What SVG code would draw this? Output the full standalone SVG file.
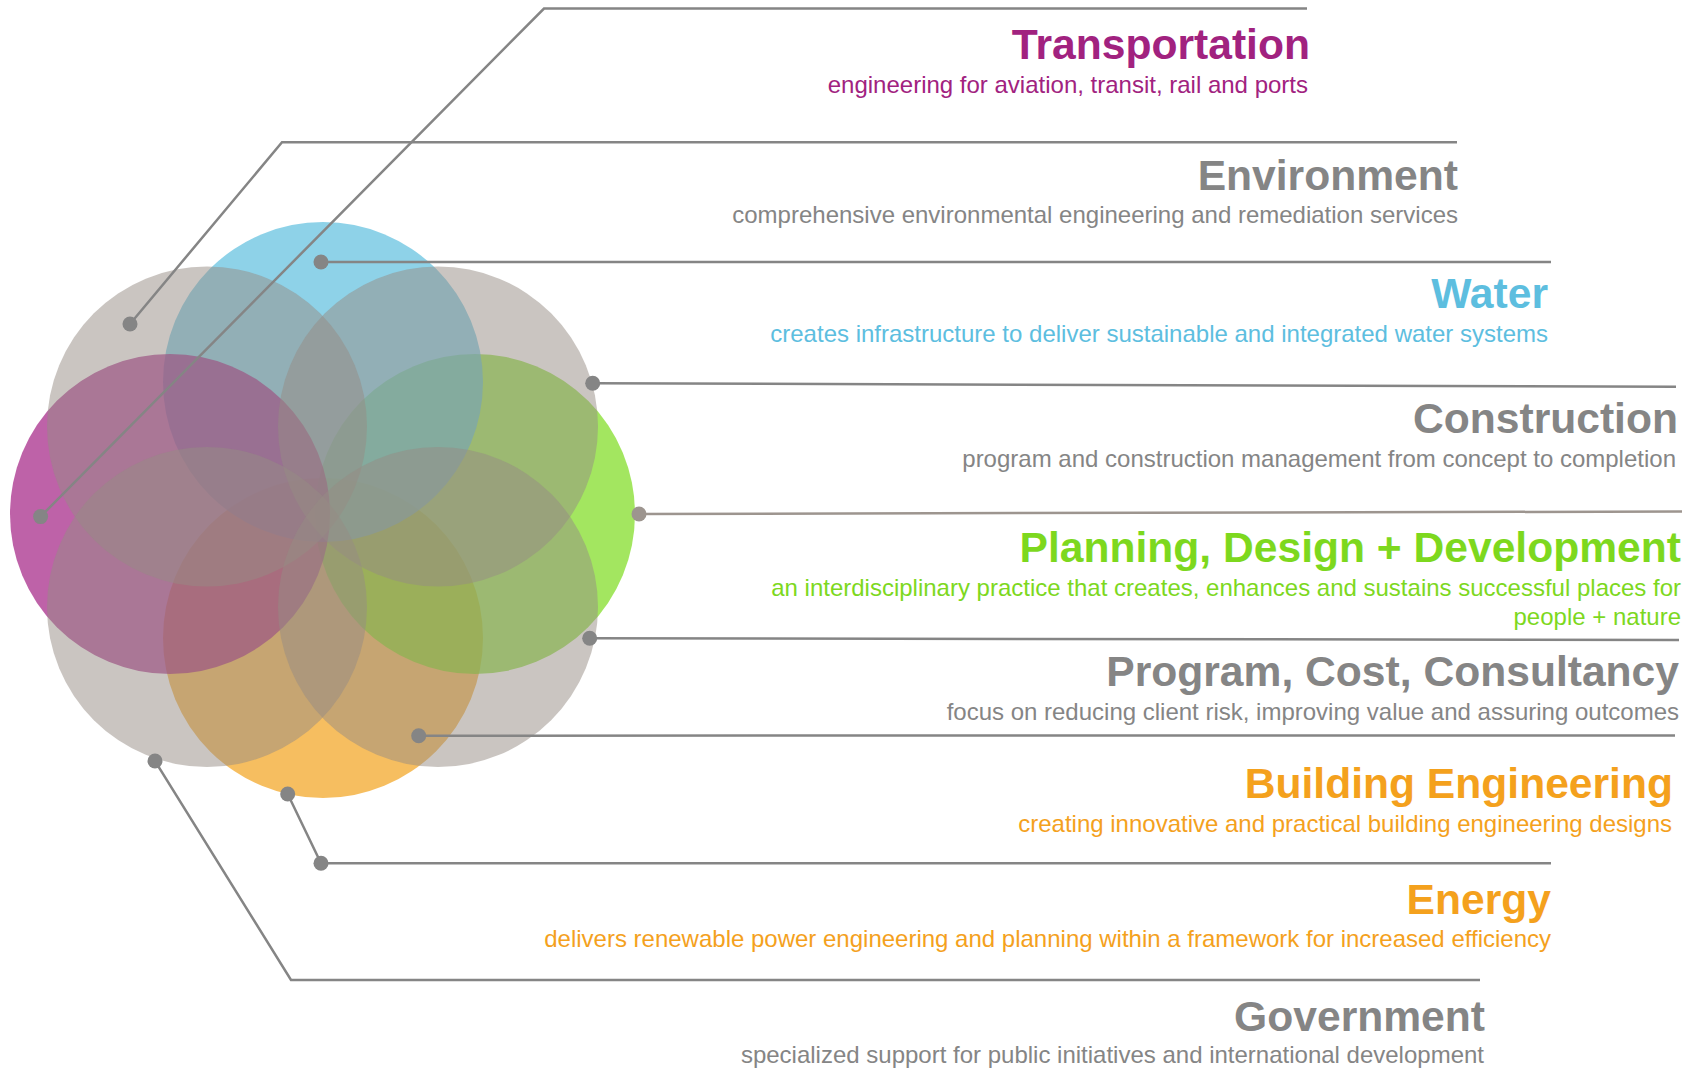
<svg xmlns="http://www.w3.org/2000/svg" width="1698" height="1068" viewBox="0 0 1698 1068">
<style>
.t{font-family:"Liberation Sans",Arial,sans-serif;font-weight:bold;font-size:42.6px;text-anchor:end}
.s{font-family:"Liberation Sans",Arial,sans-serif;font-size:24px;text-anchor:end}
.mag{fill:#A1227F}.gry{fill:#858585}.blu{fill:#5DBEDF}.grn{fill:#7DD81E}.org{fill:#F4A11D}
.cc{opacity:0.7}
.gc{fill:#958B83;opacity:0.5}
.ln{fill:none;stroke:#858585;stroke-width:2.5}
.ln2{fill:none;stroke:#9D958F;stroke-width:2.5}
.dot{fill:#858585}
.dot2{fill:#9D958F}
</style>
<rect width="1698" height="1068" fill="#ffffff"/>
<g id="venn">
<circle class="cc" cx="323" cy="638" r="160" fill="#F2A21C"/>
<circle class="cc" cx="475" cy="514" r="160" fill="#7CDB1C"/>
<circle class="cc" cx="323" cy="382" r="160" fill="#5EBFDE"/>
<circle class="cc" cx="170" cy="514" r="160" fill="#A22083"/>
<circle class="gc" cx="207" cy="426.5" r="160"/>
<circle class="gc" cx="438" cy="426.5" r="160"/>
<circle class="gc" cx="207" cy="607" r="160"/>
<circle class="gc" cx="438" cy="607" r="160"/>
</g>
<g id="connectors">
<polyline class="ln" points="40.6,516.6 544,8.5 1307,8.5"/>
<polyline class="ln" points="130,324 282,142.3 1457,142.3"/>
<polyline class="ln" points="321,262 1551,262"/>
<polyline class="ln" points="592.7,383.3 1676,386.7"/>
<polyline class="ln2" points="639,514 1682,511.5"/>
<polyline class="ln" points="589.7,638.3 1679,640"/>
<polyline class="ln" points="418.7,735.7 1675,735.4"/>
<polyline class="ln" points="287.7,794 321,863.3 1551,863.3"/>
<polyline class="ln" points="155,761 291,980 1480,980"/>
<circle class="dot" cx="40.6" cy="516.6" r="7.5"/>
<circle class="dot" cx="130" cy="324" r="7.5"/>
<circle class="dot" cx="321" cy="262" r="7.5"/>
<circle class="dot" cx="592.7" cy="383.3" r="7.5"/>
<circle class="dot2" cx="639" cy="514" r="7.5"/>
<circle class="dot" cx="589.7" cy="638.3" r="7.5"/>
<circle class="dot" cx="418.7" cy="735.7" r="7.5"/>
<circle class="dot" cx="287.7" cy="794" r="7.5"/>
<circle class="dot" cx="321" cy="863.3" r="7.5"/>
<circle class="dot" cx="155" cy="761" r="7.5"/>
</g>
<g id="transportation">
<text class="t mag" x="1310" y="59">Transportation</text>
<text class="s mag" x="1308" y="92.5">engineering for aviation, transit, rail and ports</text>
</g>
<g id="environment">
<text class="t gry" x="1458" y="190">Environment</text>
<text class="s gry" x="1458" y="222.5">comprehensive environmental engineering and remediation services</text>
</g>
<g id="water">
<text class="t blu" x="1548" y="308">Water</text>
<text class="s blu" x="1548" y="341.5">creates infrastructure to deliver sustainable and integrated water systems</text>
</g>
<g id="construction">
<text class="t gry" x="1678" y="433">Construction</text>
<text class="s gry" x="1676" y="466.5">program and construction management from concept to completion</text>
</g>
<g id="planning">
<text class="t grn" x="1681" y="562">Planning, Design + Development</text>
<text class="s grn" x="1681" y="595.5">an interdisciplinary practice that creates, enhances and sustains successful places for</text>
<text class="s grn" x="1681" y="624.5">people + nature</text>
</g>
<g id="program">
<text class="t gry" x="1679" y="686">Program, Cost, Consultancy</text>
<text class="s gry" x="1679" y="719.5">focus on reducing client risk, improving value and assuring outcomes</text>
</g>
<g id="building">
<text class="t org" x="1673" y="798">Building Engineering</text>
<text class="s org" x="1672" y="831.5">creating innovative and practical building engineering designs</text>
</g>
<g id="energy">
<text class="t org" x="1551" y="914">Energy</text>
<text class="s org" x="1551" y="946.5">delivers renewable power engineering and planning within a framework for increased efficiency</text>
</g>
<g id="government">
<text class="t gry" x="1485" y="1031">Government</text>
<text class="s gry" x="1484" y="1063">specialized support for public initiatives and international development</text>
</g>
</svg>
